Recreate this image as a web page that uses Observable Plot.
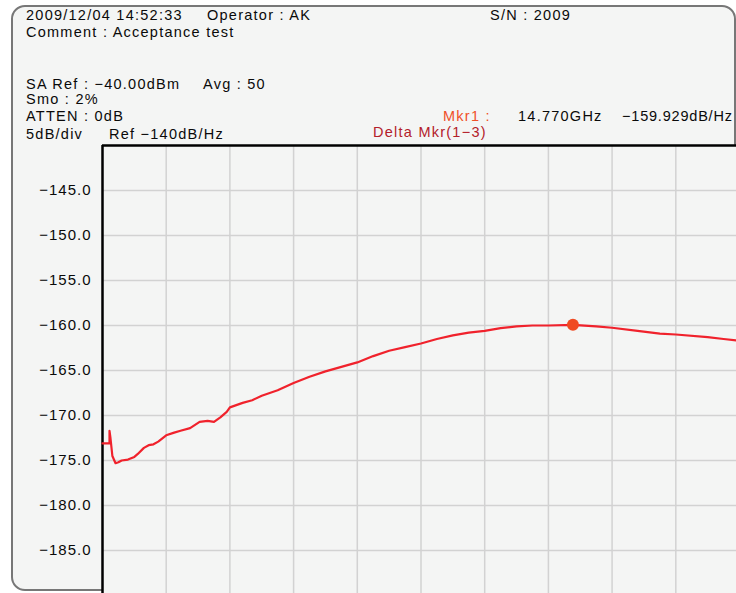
<!DOCTYPE html>
<html><head><meta charset="utf-8">
<script src="https://cdn.jsdelivr.net/npm/d3@7"></script>
<script src="https://cdn.jsdelivr.net/npm/@observablehq/plot@0.6"></script>
<style>
body{margin:0;background:#fff;}
#wrap{position:relative;width:736px;height:593px;overflow:hidden;font-family:"Liberation Sans",Arial,sans-serif;font-size:14.5px;color:#0a0a0a;}
#panel{position:absolute;left:11px;top:5px;width:725px;height:586px;border:2px solid #777;border-radius:14px;background:#f4f5f4;box-sizing:border-box;}
.t{position:absolute;line-height:14px;white-space:nowrap;}
#chart{position:absolute;left:0;top:0;}
</style>
</head><body>
<div id="wrap">
  <div id="panel"></div>
  <div id="chart"></div>
</div>
<script>
// ---- data ----
const freqGHz = [0.00,0.22,0.22,0.25,0.31,0.41,0.50,0.60,0.80,1.00,1.10,1.30,1.45,1.60,1.75,2.00,2.25,2.45,2.75,3.05,3.30,3.50,3.70,3.90,4.00,4.40,4.70,5.00,5.50,6.00,6.50,7.00,7.50,8.00,8.50,9.00,9.50,10.00,10.50,11.00,11.50,12.00,12.50,13.00,13.50,14.00,14.77,15.50,16.00,16.80,17.50,18.00,19.00,19.50,20.00];
const levelDb = [-173.1,-173.1,-171.7,-172.5,-174.5,-175.3,-175.2,-175.0,-174.9,-174.6,-174.3,-173.6,-173.3,-173.2,-172.9,-172.2,-171.9,-171.7,-171.4,-170.7,-170.6,-170.7,-170.2,-169.6,-169.1,-168.6,-168.3,-167.8,-167.2,-166.4,-165.7,-165.1,-164.6,-164.1,-163.4,-162.8,-162.4,-162.0,-161.5,-161.1,-160.8,-160.6,-160.3,-160.1,-160.0,-160.0,-159.93,-160.1,-160.25,-160.6,-160.9,-161.0,-161.3,-161.5,-161.7];
const markerFreq = [14.77];
const markerLevel = [-159.929];
const yTicks = [-145,-150,-155,-160,-165,-170,-175,-180,-185];
const xGrid = [2,4,6,8,10,12,14,16,18];

const headerTexts = [
  ["2009/12/04 14:52:33", 26, 20, "#0a0a0a", 1.25],
  ["Operator : AK", 207, 20, "#0a0a0a", 1.25],
  ["S/N : 2009", 490, 20, "#0a0a0a", 1.25],
  ["Comment : Acceptance test", 26, 36.7, "#0a0a0a", 1.25],
  ["SA Ref : \u221240.00dBm", 26, 88.6, "#0a0a0a", 1.25],
  ["Avg : 50", 203, 88.6, "#0a0a0a", 1.25],
  ["Smo : 2%", 26, 104.3, "#0a0a0a", 1.25],
  ["ATTEN : 0dB", 26, 120.7, "#0a0a0a", 1.25],
  ["5dB/div", 26, 139.3, "#0a0a0a", 1.25],
  ["Ref \u2212140dB/Hz", 109, 139.3, "#0a0a0a", 1.25],
  ["Mkr1 :", 443, 120.7, "#f05028", 1.25],
  ["14.770GHz", 518, 120.7, "#0a0a0a", 1.25],
  ["\u2212159.929dB/Hz", 622, 120.7, "#0a0a0a", 0.8],
  ["Delta Mkr(1\u22123)", 373, 136.7, "#b3202a", 1.25]
];

const wrap = document.getElementById("wrap");
for (const [s, x, b, c, ls] of headerTexts) {
  const d = document.createElement("div");
  d.className = "t";
  d.textContent = s;
  d.style.left = x + "px";
  d.style.top = (b - 12.0) + "px";
  d.style.color = c;
  d.style.letterSpacing = ls + "px";
  wrap.appendChild(d);
}

const trace = freqGHz.map((f, i) => ({f, v: levelDb[i]}));
const marker = markerFreq.map((f, i) => ({f, v: markerLevel[i]}));
const fmt = d => (d < 0 ? "\u2212" : "") + Math.abs(d).toFixed(1);

const chart = Plot.plot({
  width: 736, height: 600,
  marginLeft: 102, marginRight: -3, marginTop: 145, marginBottom: 5,
  style: {background: "transparent", fontFamily: "'Liberation Sans', Arial, sans-serif", fontSize: "15px", letterSpacing: "1px", color: "#0a0a0a"},
  x: {domain: [0, 20], axis: null},
  y: {domain: [-190, -140], axis: null},
  marks: [
    Plot.frame({fill: "#f4f5f4", stroke: null}),
    Plot.gridY(yTicks, {stroke: "#d2d2d2", strokeOpacity: 1, strokeWidth: 1.5}),
    Plot.gridX(xGrid, {stroke: "#d2d2d2", strokeOpacity: 1, strokeWidth: 1.5}),
    Plot.axisY(yTicks, {tickSize: 0, tickPadding: 11, tickFormat: fmt, fill: "#0a0a0a", fontSize: 15, label: null}),
    Plot.ruleX([0], {stroke: "#000", strokeWidth: 2.5}),
    Plot.ruleY([-140], {stroke: "#000", strokeWidth: 2.5}),
    Plot.line(trace, {x: "f", y: "v", stroke: "#f0222c", strokeWidth: 2.2}),
    Plot.dot(marker, {x: "f", y: "v", r: 6, fill: "#f04a22", stroke: null})
  ]
});
document.getElementById("chart").appendChild(chart);
</script>
</body></html>
